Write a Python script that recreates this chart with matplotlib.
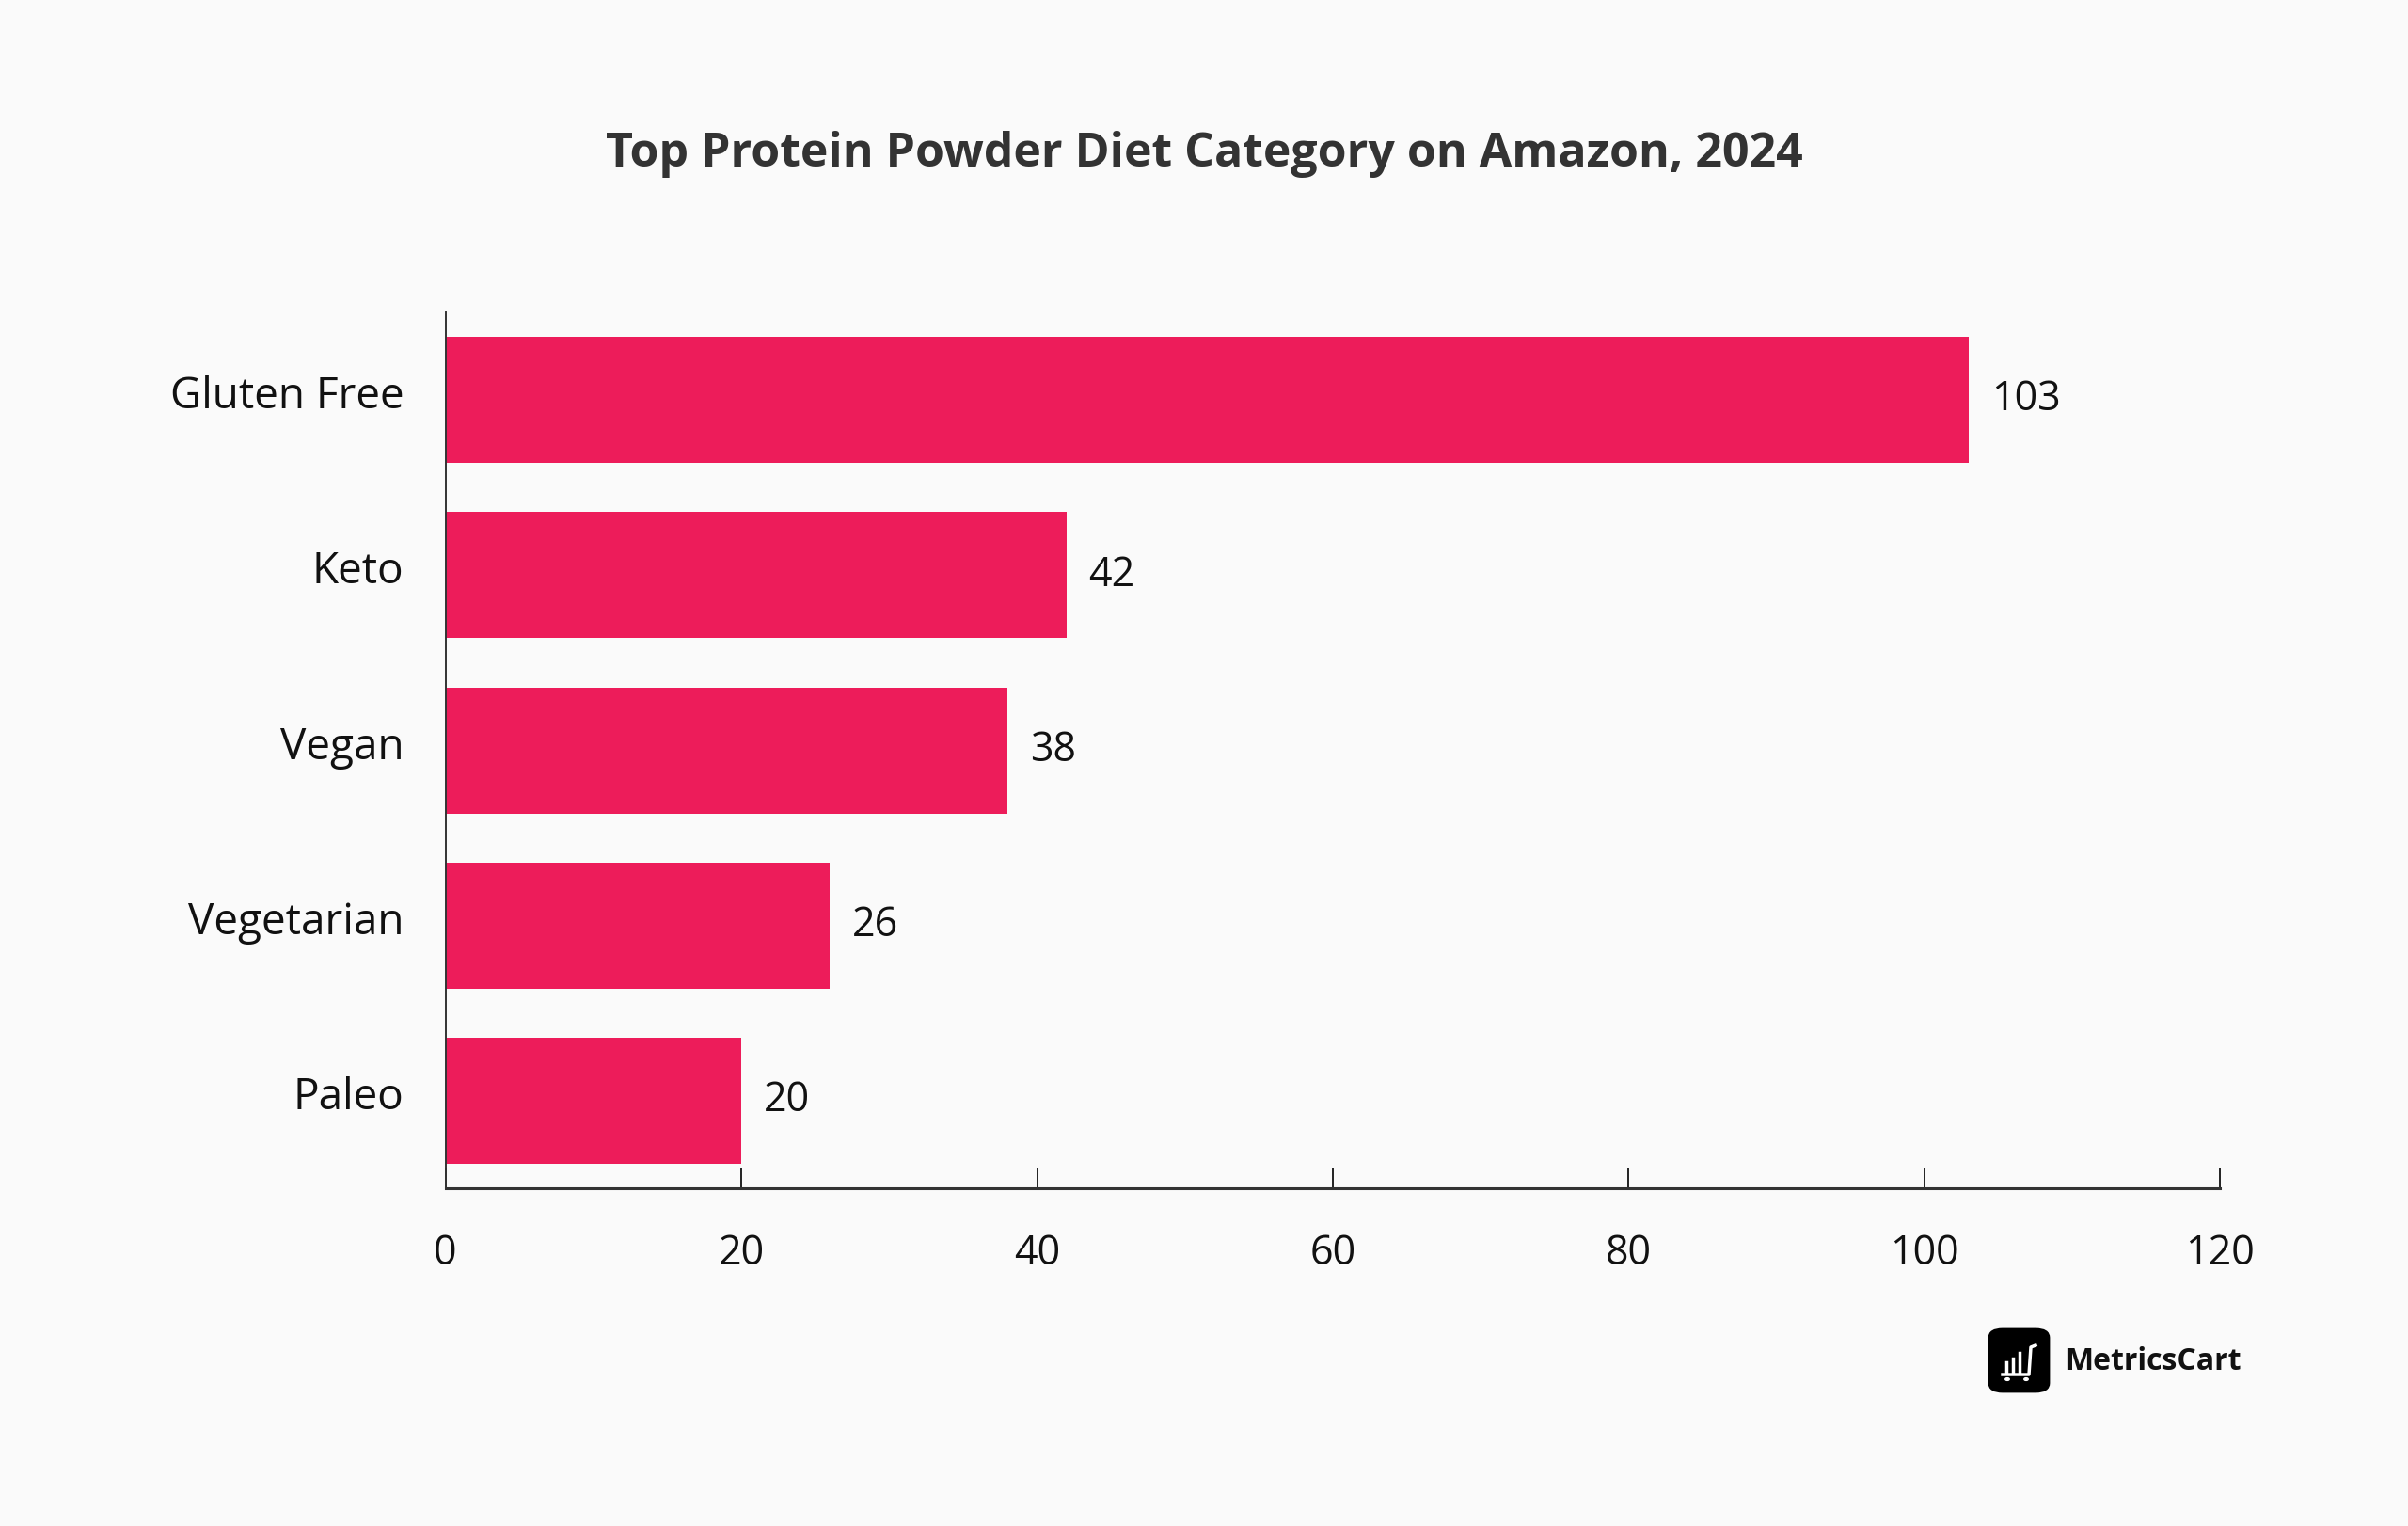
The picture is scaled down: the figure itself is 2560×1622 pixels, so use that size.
import matplotlib.pyplot as plt
from matplotlib.patches import FancyBboxPatch, Circle
from matplotlib.transforms import ScaledTranslation

categories = ['Gluten Free', 'Keto', 'Vegan', 'Vegetarian', 'Paleo']
values = [103, 42, 38, 26, 20]
xticks = [0, 20, 40, 60, 80, 100, 120]

bar_color = '#ED1C5A'
bg = '#FAFAFA'
font = 'Open Sans'

fig = plt.figure(figsize=(25.6, 16.22), dpi=100, facecolor=bg)
ax = fig.add_axes([0.185, 0.2213, 0.737, 0.574])
ax.set_facecolor(bg)

ypos = list(range(len(categories)))[::-1]
ax.barh(ypos, values, height=0.72, color=bar_color)
for y, v in zip(ypos, values):
    ax.text(v + 1.5, y, str(v), va='center', ha='left', fontsize=31,
            family=font, color='#111111')

ax.set_xlim(0, 120)
ax.set_ylim(-0.5, 4.5)
ax.set_xticks(xticks)
ax.set_yticks(ypos)
ax.set_yticklabels(categories)
for s in ['top', 'right']:
    ax.spines[s].set_visible(False)
ax.spines['bottom'].set_color('#333333')
ax.spines['bottom'].set_linewidth(2.2)
ax.spines['left'].set_color('#333333')
ax.spines['left'].set_linewidth(1.4)
ax.tick_params(axis='x', direction='in', length=16, width=1.4, color='#222222',
               pad=34, labelsize=31)
ax.tick_params(axis='y', length=0, pad=32, labelsize=33)
for lab in ax.get_xticklabels() + ax.get_yticklabels():
    lab.set_family(font)
    lab.set_color('#111111')
# labels sit a little above bar centres in the original
lift = ScaledTranslation(0, 6 / 72, fig.dpi_scale_trans)
for lab in ax.get_yticklabels():
    lab.set_transform(lab.get_transform() + lift)

fig.text(0.5, 0.899, 'Top Protein Powder Diet Category on Amazon, 2024',
         ha='center', va='center', fontsize=36, fontweight='bold',
         family=font, color='#333333')

# logo
W, H = 2560, 1622
box = FancyBboxPatch((2115 / W, 1 - 1479 / H), 63 / W, 66 / H,
                     boxstyle='round,pad=0.0,rounding_size=0.0055',
                     transform=fig.transFigure, facecolor='black',
                     edgecolor='black', linewidth=2)
fig.patches.append(box)
for i, h in enumerate([10, 14, 20]):
    x0 = (2133 + i * 7) / W
    fig.lines.append(plt.Line2D([x0, x0], [1 - 1458 / H, 1 - (1458 - h) / H],
                                transform=fig.transFigure, color='white', lw=2.5))
fig.lines.append(plt.Line2D([2129 / W, 2157 / W, 2159 / W, 2164 / W],
                            [1 - 1461 / H, 1 - 1461 / H, 1 - 1432 / H, 1 - 1430 / H],
                            transform=fig.transFigure, color='white', lw=2.5))
for cx in [2134, 2154]:
    fig.patches.append(Circle((cx / W, 1 - 1466 / H), 2.2 / W,
                              transform=fig.transFigure, color='white'))
fig.text(2195 / W, 1 - 1447 / H, 'MetricsCart', ha='left', va='center',
         fontsize=23, fontweight='bold', family=font, color='#111111')

fig.savefig('out.png', dpi=100, facecolor=bg)
